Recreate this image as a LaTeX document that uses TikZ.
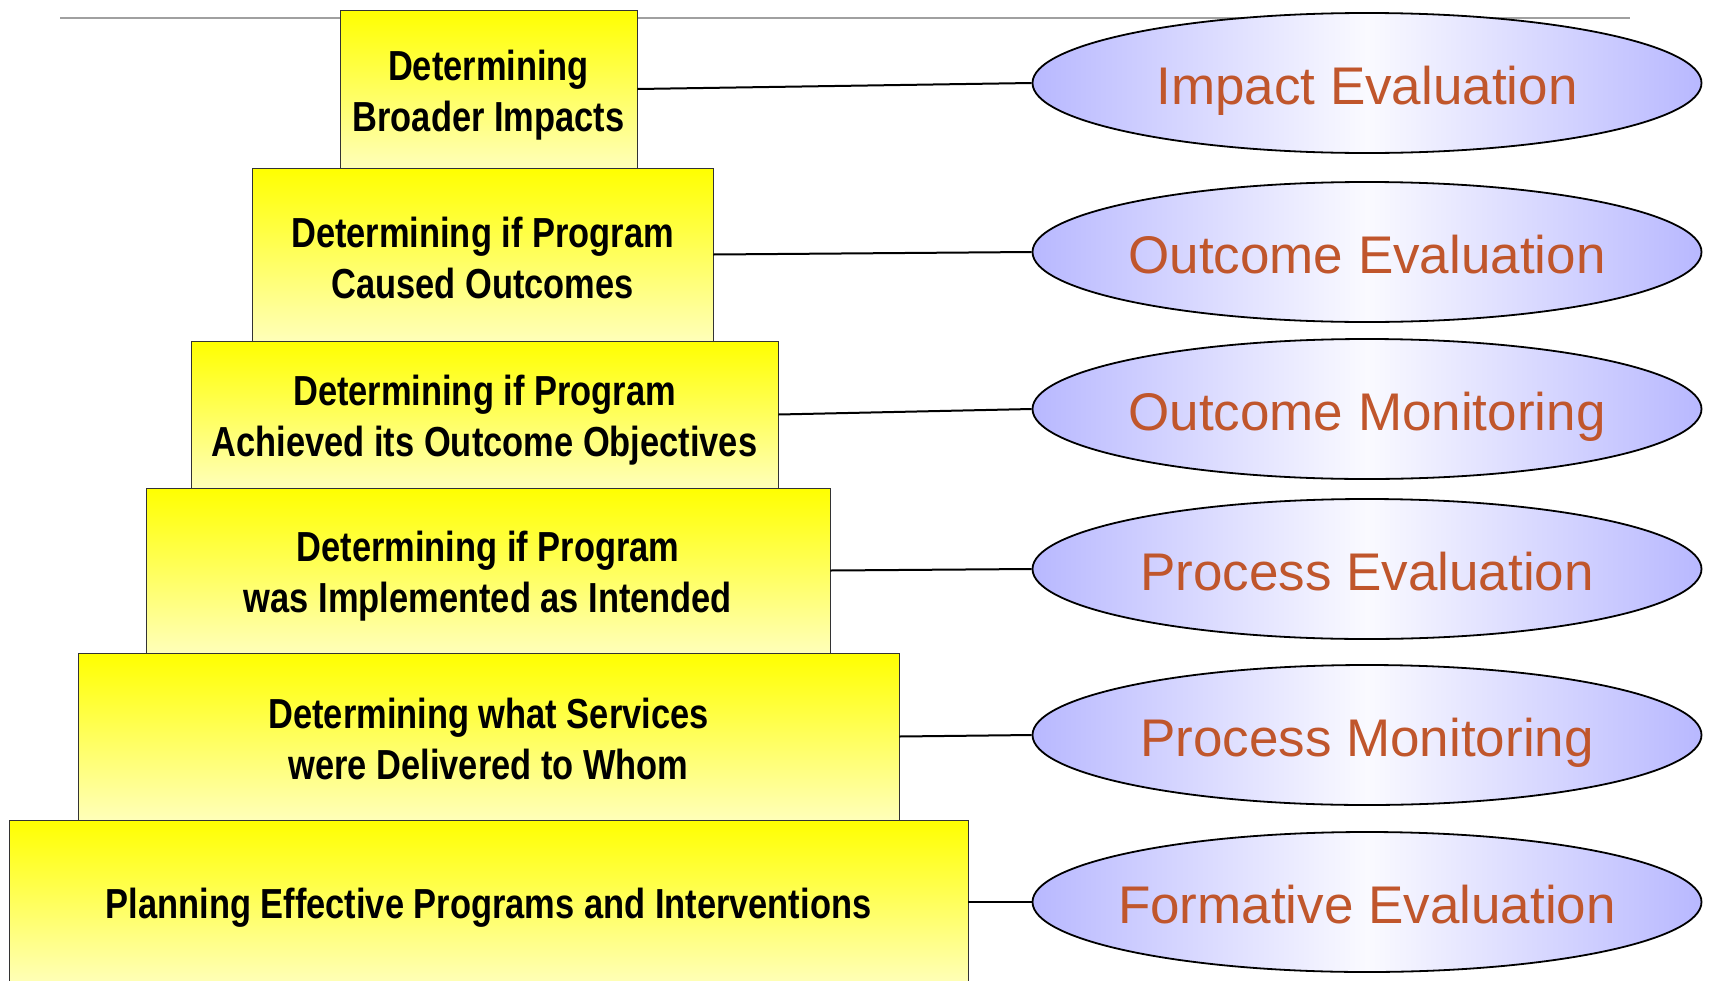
\documentclass[tikz,border=0pt]{standalone}
\usepackage{fontspec}
\usetikzlibrary{shapes.geometric}
\newfontfamily\boxfont[FakeStretch=0.82]{Liberation Sans Bold}
\newfontfamily\ellfont{Liberation Sans}
\definecolor{ybright}{RGB}{255,255,0}
\definecolor{ypale}{RGB}{255,255,185}
\definecolor{lavedge}{RGB}{184,184,255}
\definecolor{lavmid}{RGB}{250,250,255}
\definecolor{rust}{RGB}{192,86,44}
\definecolor{rulegray}{RGB}{160,160,160}
\tikzset{
  stepbox/.style={rectangle, draw=black!80, line width=0.9pt, top color=ybright, bottom color=ypale, inner sep=0pt},
  boxtext/.style={inner sep=0pt, align=center, text=black, font=\boxfont\fontsize{42}{51}\selectfont},
  evalell/.style={ellipse, draw=black, line width=1.8pt, left color=lavedge, right color=lavedge, middle color=lavmid,
    minimum width=669pt, minimum height=140pt, inner sep=0pt},
  elltext/.style={inner sep=0pt, text=rust, text height=38pt, text depth=0pt, font=\ellfont\fontsize{53}{60}\selectfont},
  link/.style={draw=black, line width=2pt}
}
\begin{document}
\begin{tikzpicture}[x=1pt,y=-1pt]
\useasboundingbox (0,0) rectangle (1713,980);
\coordinate (rl) at (60,18);
\coordinate (rr) at (1630,18);
\draw[rulegray, line width=1.8pt] (rl) -- (rr);
% pyramid
\node[stepbox, minimum width=297pt, minimum height=158pt] (b1) at (488.5,89) {};
\node[stepbox, minimum width=461pt, minimum height=173pt] (b2) at (482.5,254.5) {};
\node[stepbox, minimum width=587pt, minimum height=147pt] (b3) at (484.5,414.5) {};
\node[stepbox, minimum width=684pt, minimum height=165pt] (b4) at (488,570.5) {};
\node[stepbox, minimum width=821pt, minimum height=167pt] (b5) at (488.5,736.5) {};
\node[stepbox, minimum width=959pt, minimum height=164pt] (b6) at (488.5,902) {};
\node[boxtext] (t1) at ([yshift=-6pt]b1.center) {Determining\\Broader Impacts};
\node[boxtext] (t2) at ([yshift=-3.4pt]b2.center) {Determining if Program\\Caused Outcomes};
\node[boxtext] (t3) at ([yshift=-6pt]b3.center) {Determining if Program\\Achieved its Outcome Objectives};
\node[boxtext] (t4) at ([yshift=-6pt]b4.center) {Determining if Program\\was Implemented as Intended};
\node[boxtext] (t5) at ([yshift=-2.2pt]b5.center) {Determining what Services\\were Delivered to Whom};
\node[boxtext] (t6) at ([yshift=-6pt]b6.center) {Planning Effective Programs and Interventions};
% ellipses
\node[evalell] (e1) at (1367,83) {};
\node[evalell] (e2) at (1367,252) {};
\node[evalell] (e3) at (1367,409) {};
\node[evalell] (e4) at (1367,569) {};
\node[evalell] (e5) at (1367,735) {};
\node[evalell] (e6) at (1367,902) {};
\node[elltext] (l1) at ([yshift=-2pt]e1.center) {Impact Evaluation};
\node[elltext] (l2) at ([yshift=-2pt]e2.center) {Outcome Evaluation};
\node[elltext] (l3) at ([yshift=-2pt]e3.center) {Outcome Monitoring};
\node[elltext] (l4) at ([yshift=-2pt]e4.center) {Process Evaluation};
\node[elltext] (l5) at ([yshift=-2pt]e5.center) {Process Monitoring};
\node[elltext] (l6) at ([yshift=-2pt]e6.center) {Formative Evaluation};
% connectors
\draw[link] (b1.east) -- (e1.west);
\draw[link] (b2.east) -- (e2.west);
\draw[link] (b3.east) -- (e3.west);
\draw[link] (b4.east) -- (e4.west);
\draw[link] (b5.east) -- (e5.west);
\draw[link] (b6.east) -- (e6.west);
\end{tikzpicture}
\end{document}
